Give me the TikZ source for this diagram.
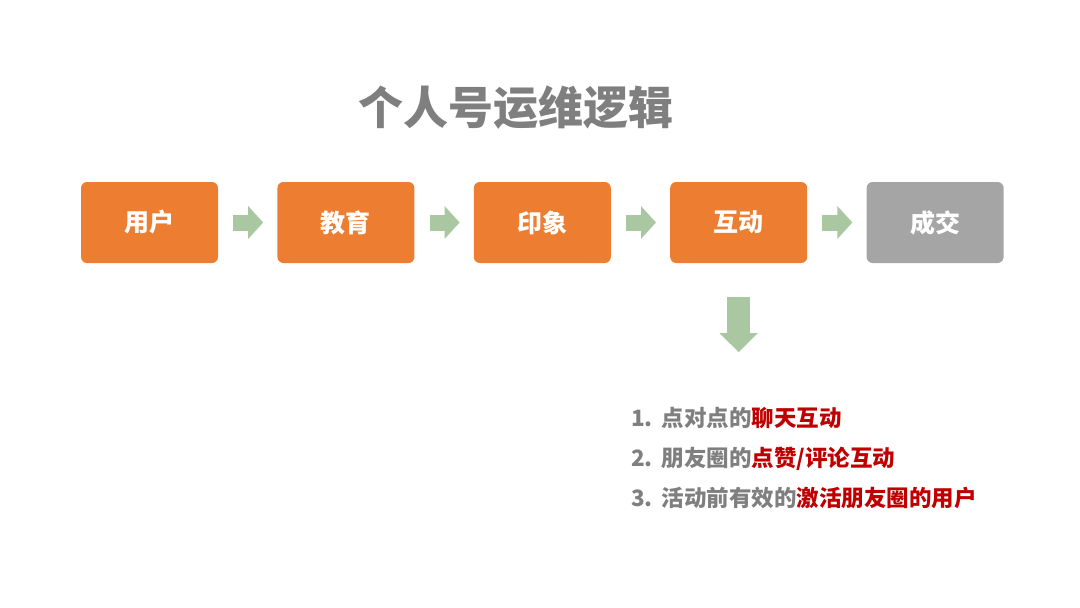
\documentclass[tikz,border=0pt]{standalone}
\usepackage{fontspec}
\setmainfont{Noto Sans CJK SC}
\usepackage{xcolor}
\usepackage{tikz}
\usetikzlibrary{arrows.meta,positioning}
\definecolor{boxorange}{HTML}{ED7D31}
\definecolor{boxgray}{HTML}{A5A5A5}
\definecolor{flowgreen}{HTML}{A9C8A2}
\definecolor{txtgray}{HTML}{7F7F7F}
\definecolor{hired}{HTML}{C00000}
\newcommand\redtxt[1]{\textcolor{hired}{#1}}

\begin{document}
\begin{tikzpicture}[
    x=1pt, y=1pt,
    stage/.style={rounded corners=6pt, minimum width=137pt, minimum height=81pt,
                  inner sep=0pt, fill=boxorange, text=white,
                  font=\fontsize{25}{25}\selectfont\bfseries},
    flow/.style={draw=flowgreen, line width=16pt,
                 -{Triangle[width=32pt,length=15pt]},
                 shorten <=15pt, shorten >=14pt},
    down/.style={draw=flowgreen, line width=23pt,
                 -{Triangle[width=37pt,length=19pt]}},
    ttl/.style={font=\fontsize{45}{45}\selectfont\bfseries, text=txtgray},
    list/.style={font=\fontsize{22.5}{40}\selectfont\bfseries, text=txtgray,
                 align=left, inner sep=0pt, anchor=west},
    ]
\useasboundingbox (0,0) rectangle (1080,-608);

\node[ttl] (title) at (516,-108) {个人号运维逻辑};

% the five stages
\node[stage] (user) at (149.5,-222.5) {用户};
\node[stage, right=59pt of user] (edu) {教育};
\node[stage, right=59pt of edu] (impr) {印象};
\node[stage, right=59pt of impr] (inter) {互动};
\node[stage, fill=boxgray, right=59pt of inter] (deal) {成交};

\draw[flow] (user) -- (edu);
\draw[flow] (edu) -- (impr);
\draw[flow] (impr) -- (inter);
\draw[flow] (inter) -- (deal);

\coordinate[below=89pt of inter.south] (tip);
\draw[down, shorten <=34pt] (inter) -- (tip);

\node[list] (acts) at (631,-458)
  {1.\hspace{9pt}点对点的\redtxt{聊天互动}\\
   2.\hspace{9pt}朋友圈的\redtxt{点赞/评论互动}\\
   3.\hspace{9pt}活动前有效的\redtxt{激活朋友圈的用户}};
\end{tikzpicture}
\end{document}
